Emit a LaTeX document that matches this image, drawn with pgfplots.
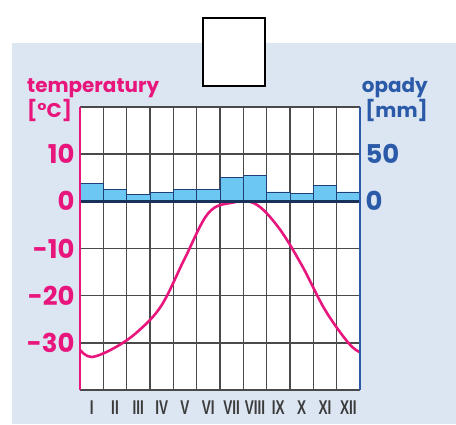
\documentclass[border=0pt]{standalone}
\usepackage{pgfplots}
\pgfplotsset{compat=1.18}
\usepackage{fontspec}
\setmainfont{Poppins}
\definecolor{pk}{HTML}{E8167C}
\definecolor{bl}{HTML}{2B5BA8}
\definecolor{bgc}{HTML}{DCE6F2}
\definecolor{barc}{HTML}{6CC8F2}
\definecolor{gridc}{HTML}{4A4A4A}
\begin{document}
\begin{tikzpicture}[x=1bp,y=1bp]
\useasboundingbox (-80,-34) rectangle (376,390);
\fill[bgc] (-68,-34) rectangle (376,347);
% temperature axis with grid
\begin{axis}[at={(0,0)}, anchor=south west, scale only axis,
  width=280bp, height=283bp,
  xmin=0, xmax=12, ymin=-40, ymax=20,
  axis background/.style={fill=white},
  axis line style={gridc, line width=1.5pt},
  xtick={0.5,1.5,...,11.5},
  xticklabels={I,II,III,IV,V,VI,VII,VIII,IX,X,XI,XII},
  xticklabel style={font=\fontspec{Liberation Sans}\bfseries\fontsize{20}{20}\selectfont, text=gridc!80!black, xscale=0.68, yshift=-7pt},
  major x tick style={draw=none},
  minor xtick={0,1,...,12},
  xminorgrids=true,
  minor grid style={gridc, line width=1.6pt},
  minor x tick style={draw=none},
  ytick={-30,-20,-10,0,10},
  yticklabels={{-30},{-20},{-10},0,10},
  ymajorgrids=true,
  major grid style={gridc, line width=1.6pt},
  major y tick style={draw=none},
  axis y line*=left,
  axis x line*=box,
  yticklabel style={font=\bfseries\fontsize{26}{26}\selectfont, text=pk, xshift=-2pt},
]
\end{axis}
% temperature curve
\begin{axis}[at={(0,0)}, anchor=south west, scale only axis,
  width=280bp, height=283bp,
  xmin=0, xmax=12, ymin=-40, ymax=20,
  hide axis, clip=true]
\addplot[pk, line width=2.6pt, smooth, tension=0.6]
  coordinates {(0,-31.5) (0.5,-33) (1.5,-31) (2.5,-27.5) (3.5,-22) (4.5,-12) (5.5,-2.5) (6.5,-0.3) (7.5,-0.5) (8.5,-5.5) (9.5,-13.5) (10.5,-23) (11.5,-30) (12,-32)};
\end{axis}
% precipitation axis
\begin{axis}[at={(0,0)}, anchor=south west, scale only axis,
  width=280bp, height=283bp,
  xmin=0, xmax=12, ymin=-200, ymax=100,
  axis y line*=right, axis x line=none,
  axis line style={bl, line width=2pt},
  ytick={0,50}, yticklabels={0,50}, major y tick style={draw=none},
  yticklabel style={font=\bfseries\fontsize{26}{26}\selectfont, text=bl, xshift=2pt},
]
\addplot[ybar, bar width=1, bar shift=0, fill=barc, draw=bl!70!black, line width=0.8pt]
  coordinates {(0.5,19) (1.5,13) (2.5,7) (3.5,9) (4.5,13) (5.5,13) (6.5,25) (7.5,27) (8.5,10) (9.5,8) (10.5,17) (11.5,10)};
\draw[bl!55!black, line width=3.2pt] (axis cs:0,0) -- (axis cs:12,0);
\end{axis}
\draw[pk, line width=2pt] (0,0) -- (0,283);
\draw[bl, line width=2pt] (280,0) -- (280,283);
\node[anchor=west, text=pk, font=\bfseries\fontsize{20}{20}\selectfont, inner sep=0] at (-53,302) {temperatury};
\node[anchor=west, text=pk, font=\bfseries\fontsize{20}{20}\selectfont, inner sep=0] at (-53,280) {[°C]};
\node[anchor=east, text=bl, font=\bfseries\fontsize{20}{20}\selectfont, inner sep=0] at (348,302) {opady};
\node[anchor=east, text=bl, font=\bfseries\fontsize{20}{20}\selectfont, inner sep=0] at (348,280) {[mm]};
\draw[black, line width=2pt, fill=white] (123,304) rectangle (185,372);
\end{tikzpicture}
\end{document}
